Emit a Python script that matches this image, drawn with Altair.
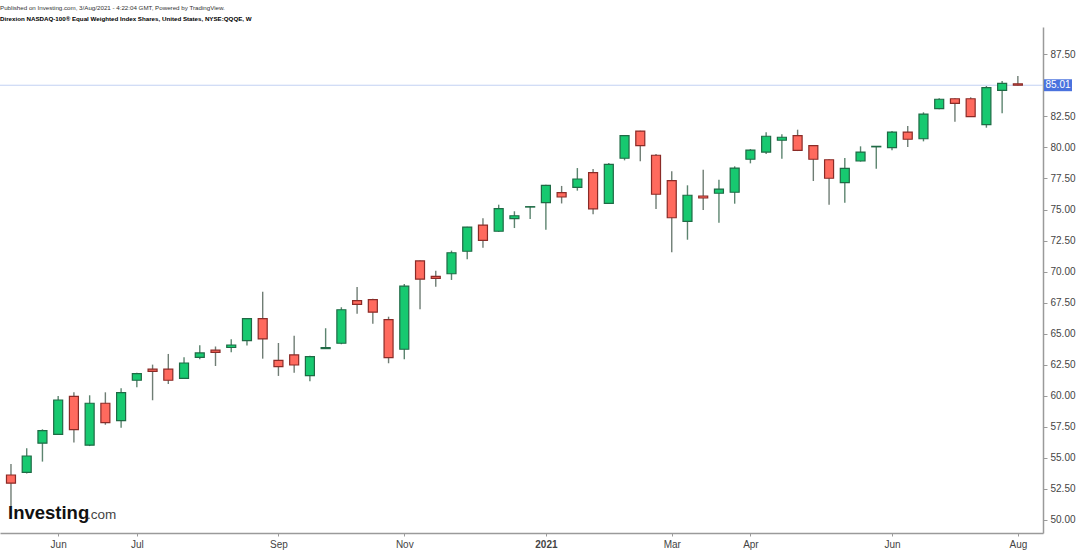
import altair as alt
import pandas as pd

# ---- data (weekly candles, NYSE:QQQE) ----
week_start = [
    "2020-05-11", "2020-05-18", "2020-05-25", "2020-06-01", "2020-06-08", "2020-06-15",
    "2020-06-22", "2020-06-29", "2020-07-06", "2020-07-13", "2020-07-20", "2020-07-27",
    "2020-08-03", "2020-08-10", "2020-08-17", "2020-08-24", "2020-08-31", "2020-09-07",
    "2020-09-14", "2020-09-21", "2020-09-28", "2020-10-05", "2020-10-12", "2020-10-19",
    "2020-10-26", "2020-11-02", "2020-11-09", "2020-11-16", "2020-11-23", "2020-11-30",
    "2020-12-07", "2020-12-14", "2020-12-21", "2020-12-28", "2021-01-04", "2021-01-11",
    "2021-01-18", "2021-01-25", "2021-02-01", "2021-02-08", "2021-02-15", "2021-02-22",
    "2021-03-01", "2021-03-08", "2021-03-15", "2021-03-22", "2021-03-29", "2021-04-05",
    "2021-04-12", "2021-04-19", "2021-04-26", "2021-05-03", "2021-05-10", "2021-05-17",
    "2021-05-24", "2021-05-31", "2021-06-07", "2021-06-14", "2021-06-21", "2021-06-28",
    "2021-07-05", "2021-07-12", "2021-07-19", "2021-07-26", "2021-08-02",
]
opens = [
    53.62, 53.84, 56.18, 56.90, 59.96, 56.02, 59.40, 58.00, 61.25, 62.14, 62.14, 61.41,
    63.10, 63.67, 63.89, 64.45, 66.21, 62.86, 63.29, 61.62, 63.80, 64.23, 67.66, 67.74,
    66.13, 63.75, 70.86, 69.62, 69.83, 71.64, 73.75, 73.25, 74.26, 75.20, 75.55, 76.36,
    76.79, 77.98, 75.50, 79.13, 81.32, 79.37, 77.32, 74.05, 76.09, 76.31, 76.39, 79.05,
    79.63, 80.58, 80.95, 80.14, 79.01, 77.16, 78.91, 80.05, 79.98, 81.24, 80.70, 83.12,
    83.92, 83.92, 81.83, 84.60, 85.12,
]
highs = [
    54.51, 55.77, 57.30, 59.99, 60.28, 60.04, 60.28, 60.61, 61.85, 62.51, 63.37, 63.10,
    64.07, 63.97, 64.55, 66.25, 68.38, 64.25, 64.84, 63.23, 65.44, 67.13, 68.76, 67.82,
    66.37, 69.00, 70.90, 70.08, 71.69, 73.62, 74.29, 75.39, 74.86, 75.25, 77.00, 76.90,
    78.34, 78.26, 78.75, 81.00, 81.35, 79.47, 78.08, 76.95, 78.21, 77.40, 78.48, 79.87,
    81.22, 81.06, 81.43, 80.18, 79.05, 79.15, 80.09, 80.12, 81.32, 81.73, 82.83, 83.96,
    83.96, 84.04, 84.95, 85.35, 85.75,
]
lows = [
    51.07, 53.75, 54.70, 56.85, 56.23, 55.95, 57.67, 57.43, 60.69, 59.64, 60.95, 61.35,
    62.94, 62.40, 63.50, 64.05, 62.99, 61.60, 61.86, 61.17, 63.78, 64.15, 66.61, 65.81,
    62.62, 62.94, 66.97, 68.79, 69.33, 70.99, 71.93, 73.20, 73.51, 74.24, 73.38, 75.49,
    76.52, 74.62, 75.45, 78.96, 78.88, 75.04, 71.56, 72.57, 74.96, 73.94, 75.47, 78.72,
    79.47, 79.09, 79.71, 77.30, 75.39, 75.55, 78.86, 78.29, 79.77, 80.04, 80.49, 83.08,
    82.07, 82.45, 81.59, 82.75, 84.98,
]
closes = [
    52.96, 55.15, 57.19, 59.66, 57.27, 59.40, 57.84, 60.25, 61.78, 61.97, 61.25, 62.64,
    63.45, 63.50, 64.09, 66.21, 64.58, 62.35, 62.48, 63.15, 63.88, 66.93, 67.37, 66.73,
    63.07, 68.83, 69.39, 69.46, 71.52, 73.59, 72.52, 75.07, 74.50, 75.23, 76.95, 76.01,
    77.46, 75.06, 78.64, 80.95, 80.14, 76.23, 74.34, 76.15, 75.93, 76.65, 78.34, 79.79,
    80.90, 80.82, 79.77, 79.05, 77.52, 78.32, 79.63, 80.09, 81.24, 80.66, 82.69, 83.88,
    83.55, 82.48, 84.81, 85.16, 85.01,
]
last_price = [85.01]

tick_dates = ["2020-06-01", "2020-07-06", "2020-09-07", "2020-11-02", "2021-01-04",
              "2021-03-01", "2021-04-05", "2021-06-07", "2021-08-02"]
tick_labels = ["Jun", "Jul", "Sep", "Nov", "2021", "Mar", "Apr", "Jun", "Aug"]
# 85.00 is hidden behind the last-price tag in the reference
y_ticks = [50.0, 52.5, 55.0, 57.5, 60.0, 62.5, 65.0, 67.5, 70.0, 72.5, 75.0, 77.5,
           80.0, 82.5, 87.5]

title_line1 = "Published on Investing.com, 3/Aug/2021 - 4:22:04 GMT, Powered by TradingView."
title_line2 = "Direxion NASDAQ-100\u00ae Equal Weighted Index Shares, United States, NYSE:QQQE, W"

# ---- build table ----
df = pd.DataFrame({
    "week": week_start, "open": opens, "high": highs, "low": lows, "close": closes,
})
df["idx"] = range(len(df))
df["dir"] = ["up" if c >= o else "down" for o, c in zip(opens, closes)]

tick_idx = [week_start.index(d) for d in tick_dates]
label_expr = "[" + ",".join("'%s'" % t for t in tick_labels) + "][indexof([" + \
    ",".join(str(i) for i in tick_idx) + "], datum.value)]"

FONT = "Liberation Sans"
PLOT_TOP = 27
x_scale = alt.Scale(domain=[-0.38, 65.28], nice=False, zero=False)
y_scale = alt.Scale(domain=[48.95, 89.70], nice=False, zero=False)
dir_fill = alt.Scale(domain=["up", "down"], range=["#17c970", "#ff6a5e"])
dir_stroke = alt.Scale(domain=["up", "down"], range=["#1f6a45", "#8a2b27"])

x_axis = alt.Axis(
    orient="bottom", values=tick_idx, labelExpr=label_expr, title=None,
    grid=False, domainColor="#9a9a9a", domainWidth=1.5, tickColor="#9a9a9a",
    tickSize=3, labelFont=FONT, labelFontSize=10, labelColor="#444",
    labelPadding=3,
    labelFontWeight={"condition": {"test": "datum.value == %d" % tick_idx[4],
                                   "value": "bold"}, "value": "normal"})
y_axis = alt.Axis(
    orient="right", values=y_ticks, format=".2f", title=None, grid=False,
    domainColor="#9a9a9a", domainWidth=1.5, tickColor="#9a9a9a", tickSize=4,
    labelFont=FONT, labelFontSize=10, labelColor="#444", labelPadding=3)

base = alt.Chart(df)

wicks = base.mark_rule(strokeWidth=1.4, opacity=0.85).encode(
    x=alt.X("idx:Q", scale=x_scale, axis=x_axis),
    y=alt.Y("low:Q", scale=y_scale, axis=y_axis),
    y2="high:Q",
    color=alt.Color("dir:N", scale=alt.Scale(domain=["up", "down"],
                                             range=["#3f6f56", "#56665c"]), legend=None),
)

bodies = base.mark_bar(width=9, strokeWidth=1.2).encode(
    x=alt.X("idx:Q", scale=x_scale, axis=x_axis),
    y=alt.Y("open:Q", scale=y_scale, axis=y_axis),
    y2="close:Q",
    fill=alt.Fill("dir:N", scale=dir_fill, legend=None),
    stroke=alt.Stroke("dir:N", scale=dir_stroke, legend=None),
)

price_df = pd.DataFrame({"price": last_price})
price_df["top"] = price_df["price"] + 0.48
price_df["bot"] = price_df["price"] - 0.48
price_df["label"] = price_df["price"].map(lambda v: "%.2f" % v)

price_line = alt.Chart(price_df).mark_rule(color="#c3d1f3", strokeWidth=1).encode(
    y=alt.Y("price:Q", scale=y_scale, axis=y_axis),
)
price_box = alt.Chart(price_df).mark_rect(color="#4a72de").encode(
    x=alt.value(1044), x2=alt.value(1072),
    y=alt.Y("top:Q", scale=y_scale, axis=y_axis), y2="bot:Q",
)
price_text = alt.Chart(price_df).mark_text(
    color="white", font=FONT, fontSize=10, align="center", baseline="middle"
).encode(
    x=alt.value(1058), y=alt.Y("price:Q", scale=y_scale, axis=y_axis), text="label:N",
)

logo_df = pd.DataFrame({"a": ["Investing"], "b": [".com"]})
logo1 = alt.Chart(logo_df).mark_text(
    font=FONT, fontSize=18.5, fontWeight="bold", color="#111", align="left",
    baseline="alphabetic",
).encode(x=alt.value(8), y=alt.value(519 - PLOT_TOP), text="a:N")
logo2 = alt.Chart(logo_df).mark_text(
    font=FONT, fontSize=13.5, color="#444", align="left", baseline="alphabetic",
).encode(x=alt.value(87), y=alt.value(519 - PLOT_TOP), text="b:N")

chart = alt.layer(
    price_line, wicks, bodies, price_box, price_text, logo1, logo2
).properties(
    width=1043, height=506,
    autosize=alt.AutoSizeParams(type="none"),
    padding={"left": 0, "top": PLOT_TOP, "right": 43, "bottom": 21},
    title=alt.TitleParams(
        text=title_line1, subtitle=title_line2, anchor="start", frame="group",
        font=FONT, fontSize=6.2, fontWeight="normal", color="#333",
        subtitleFont=FONT, subtitleFontSize=6.2, subtitleFontWeight="bold",
        subtitleColor="#000", offset=5, subtitlePadding=5,
    ),
    background="white",
).configure_view(strokeWidth=0)

chart.save("out.html", embed_options={"renderer": "svg", "actions": False})
